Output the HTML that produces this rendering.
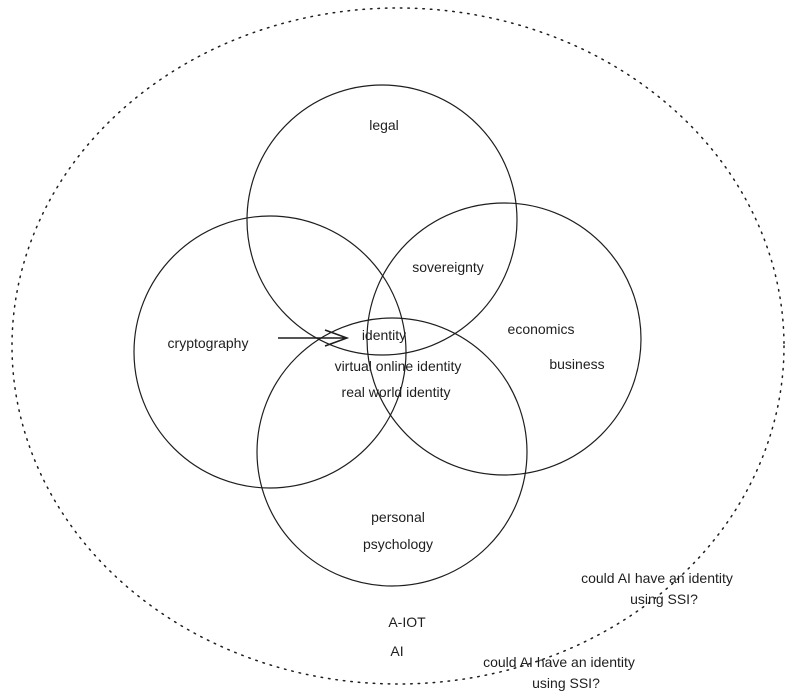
<!DOCTYPE html>
<html><head><meta charset="utf-8"><style>
html,body{margin:0;padding:0;background:#fff;}
svg{display:block;}
text{font-family:"Liberation Sans",sans-serif;font-size:14px;fill:#1e1e1e;}
</style></head><body>
<svg width="790" height="700" viewBox="0 0 790 700" xmlns="http://www.w3.org/2000/svg">
<ellipse cx="398" cy="346" rx="386" ry="338" fill="none" stroke="#1e1e1e" stroke-width="1.5" stroke-dasharray="1.5 6" stroke-linecap="round"/>
<g fill="none" stroke="#1e1e1e" stroke-width="1.2">
<ellipse cx="382" cy="220" rx="135" ry="135"/>
<ellipse cx="270" cy="352" rx="136" ry="136"/>
<ellipse cx="504" cy="339" rx="137" ry="136"/>
<ellipse cx="392" cy="452" rx="135" ry="134"/>
<path d="M278 338 L347 338 M325 330 L347 338 L325 346" stroke-width="1.5"/>
</g>
<g text-anchor="middle">
<text x="384" y="130">legal</text>
<text x="448" y="272">sovereignty</text>
<text x="384" y="340">identity</text>
<text x="541" y="334">economics</text>
<text x="208" y="348">cryptography</text>
<text x="577" y="369">business</text>
<text x="398" y="371">virtual online identity</text>
<text x="396" y="397">real world identity</text>
<text x="398" y="522">personal</text>
<text x="398" y="549">psychology</text>
<text x="657" y="583">could AI have an identity</text>
<text x="664" y="604">using SSI?</text>
<text x="407" y="627">A-IOT</text>
<text x="397" y="656">AI</text>
<text x="559" y="667">could AI have an identity</text>
<text x="566" y="688">using SSI?</text>
</g>
</svg>
</body></html>
